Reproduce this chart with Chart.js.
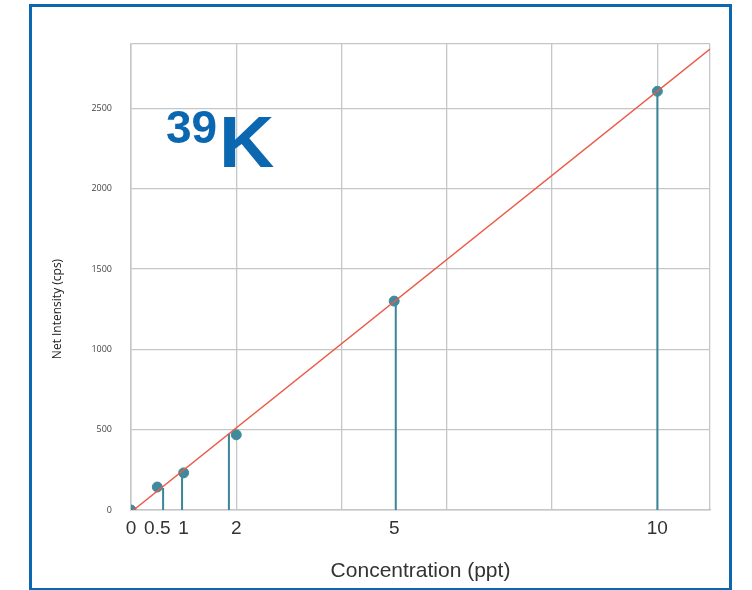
<!DOCTYPE html>
<html>
<head>
<meta charset="utf-8">
<script src="https://cdn.jsdelivr.net/npm/chart.js@4/dist/chart.umd.min.js"></script>
<style>
  body { margin: 0; background: #fff; }
  #box {
    position: absolute; left: 29px; top: 4px;
    width: 703px; height: 587px;
    border: 3px solid #0b68b0; box-sizing: border-box;
  }
  #wrap { position: relative; width: 100%; height: 100%; }
</style>
</head>
<body>
<div id="box"><div id="wrap"><canvas id="calChart"></canvas></div></div>
<script>
// puntos de calibración
const concentrations = [0, 0.5, 1, 2, 5, 10];
const intensities = [0, 143, 231, 468, 1300, 2606];

// líneas verticales (stems)
const stemX = [0.61, 0.97, 1.86, 5.03, 10.0];
const stemTop = [137, 237, 476, 1300, 2606];

// recta de ajuste (extremos)
const fitX = [0, 11];
const fitY = [-13, 2869];

// ejes
const xTickLabels = [0, 0.5, 1, 2, 5, 10];
const yTickLabels = [0, 500, 1000, 1500, 2000, 2500];
const yMax = 2900;

const teal = '#3f8b9d';
const grey = '#c4c6c8';

const stemSets = stemX.map((x, i) => ({
  type: 'line',
  data: [{ x: x, y: 0 }, { x: x, y: stemTop[i] }],
  borderColor: '#3a8597',
  borderWidth: 2,
  pointRadius: 0,
  order: 3
}));

// título "39K" y rótulo del eje Y
const textPlugin = {
  id: 'textos',
  afterDraw(chart) {
    const ctx = chart.ctx;
    ctx.save();
    ctx.fillStyle = '#0b68b0';
    ctx.textBaseline = 'alphabetic';
    ctx.font = 'bold 46px "Liberation Sans", Arial, sans-serif';
    ctx.fillText('39', 134, 136);
    ctx.translate(187, 160);
    ctx.scale(1.05, 1);
    ctx.font = 'bold 73px "Liberation Sans", Arial, sans-serif';
    ctx.fillText('K', 0, 0);
    ctx.restore();

    ctx.save();
    ctx.fillStyle = '#222';
    ctx.font = '12px "Open Sans", sans-serif';
    ctx.textAlign = 'center';
    ctx.textBaseline = 'middle';
    ctx.translate(26, 302);
    ctx.rotate(-Math.PI / 2);
    ctx.fillText('Net Intensity (cps)', 0, 0);
    ctx.restore();
  }
};

const ctx = document.getElementById('calChart').getContext('2d');
new Chart(ctx, {
  type: 'scatter',
  data: {
    datasets: [
      {
        type: 'line',
        data: fitX.map((x, i) => ({ x: x, y: fitY[i] })),
        borderColor: '#ea5a45',
        borderWidth: 1.4,
        pointRadius: 0,
        order: 1
      },
      {
        data: concentrations.map((x, i) => ({ x: x, y: intensities[i] })),
        backgroundColor: teal,
        borderColor: teal,
        pointRadius: 5,
        order: 2
      },
      ...stemSets
    ]
  },
  options: {
    responsive: true,
    maintainAspectRatio: false,
    animation: false,
    layout: { padding: { left: 0, top: 37, right: 19, bottom: 0 } },
    plugins: {
      legend: { display: false },
      tooltip: { enabled: false }
    },
    scales: {
      x: {
        type: 'linear',
        position: 'bottom',
        min: 0,
        max: 11,
        afterBuildTicks: scale => { scale.ticks = xTickLabels.map(v => ({ value: v })); },
        afterFit: scale => { scale.height = 78; },
        ticks: {
          autoSkip: false,
          maxRotation: 0,
          padding: 7,
          color: '#333',
          font: { family: '"Liberation Sans", Arial, sans-serif', size: 19 },
          callback: v => String(v)
        },
        grid: { display: false, drawTicks: false },
        border: { color: grey, width: 1.5 },
        title: {
          display: true,
          text: 'Concentration (ppt)',
          color: '#333',
          font: { family: '"Liberation Sans", Arial, sans-serif', size: 21 },
          padding: { top: 0, bottom: 4 }
        }
      },
      x2: {
        type: 'linear',
        position: 'top',
        min: 0,
        max: 11,
        ticks: { display: false, stepSize: 2 },
        afterFit: scale => { scale.height = 0; },
        grid: { color: grey, lineWidth: 1.3, drawTicks: false },
        border: { display: false }
      },
      y: {
        min: 0,
        max: yMax,
        afterFit: scale => { scale.width = 99; },
        afterBuildTicks: scale => { scale.ticks = yTickLabels.concat([yMax]).map(v => ({ value: v })); },
        ticks: {
          padding: 19,
          color: '#444',
          font: { family: '"Open Sans", sans-serif', size: 9 },
          callback: v => yTickLabels.includes(v) ? String(v) : ''
        },
        grid: { color: grey, lineWidth: 1.3, drawTicks: false },
        border: { color: grey, width: 1.5 }
      }
    }
  },
  plugins: [textPlugin]
});
</script>
</body>
</html>
